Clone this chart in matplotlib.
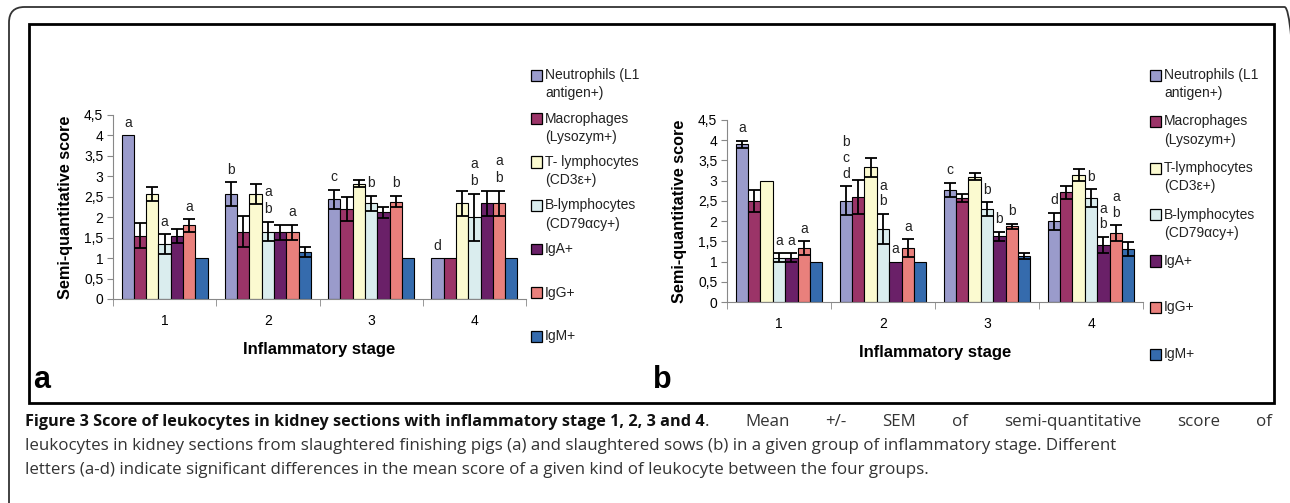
import numpy as np
import matplotlib
matplotlib.use("Agg")
from matplotlib import pyplot as plt
from matplotlib.patches import Rectangle, FancyBboxPatch

W, H = 1290, 503
plt.rcParams["font.family"] = ["Liberation Sans", "DejaVu Sans"]

stages = [1, 2, 3, 4]
series = ["Neutrophils (L1\nantigen+)", "Macrophages\n(Lysozym+)", "T- lymphocytes\n(CD3ε+)",
          "B-lymphocytes\n(CD79αcy+)", "IgA+", "IgG+", "IgM+"]
series_b = ["Neutrophils (L1\nantigen+)", "Macrophages\n(Lysozym+)", "T-lymphocytes\n(CD3ε+)",
            "B-lymphocytes\n(CD79αcy+)", "IgA+", "IgG+", "IgM+"]
colors = ["#9a9bcb", "#9b3468", "#fbfad0", "#daedee", "#6a2068", "#e9807c", "#356bad"]

# panel a: finishing pigs  (rows = series, cols = stage 1..4)
mean_a = [[4.0, 2.57, 2.44, 1.0],
          [1.55, 1.65, 2.2, 1.0],
          [2.56, 2.57, 2.82, 2.34],
          [1.34, 1.65, 2.34, 2.0],
          [1.55, 1.63, 2.12, 2.34],
          [1.8, 1.63, 2.38, 2.34],
          [1.0, 1.14, 1.0, 1.0]]
sem_a = [[0, 0.29, 0.23, 0],
         [0.3, 0.38, 0.29, 0],
         [0.17, 0.25, 0.09, 0.31],
         [0.24, 0.24, 0.19, 0.57],
         [0.17, 0.19, 0.13, 0.31],
         [0.15, 0.19, 0.14, 0.31],
         [0, 0.12, 0, 0]]
let_a = [["a", "b", "c", "d"],
         ["", "", "", ""],
         ["", "", "", ""],
         ["a", "a\nb", "b", "a\nb"],
         ["", "", "", ""],
         ["a", "a", "b", "a\nb"],
         ["", "", "", ""]]

# panel b: sows
mean_b = [[3.9, 2.5, 2.77, 2.0],
          [2.5, 2.6, 2.57, 2.71],
          [3.0, 3.33, 3.1, 3.14],
          [1.1, 1.81, 2.3, 2.57],
          [1.1, 1.0, 1.62, 1.41],
          [1.33, 1.33, 1.87, 1.7],
          [1.0, 1.0, 1.13, 1.31]]
sem_b = [[0.09, 0.36, 0.18, 0.21],
         [0.27, 0.42, 0.1, 0.16],
         [0, 0.23, 0.08, 0.15],
         [0.1, 0.37, 0.17, 0.22],
         [0.1, 0, 0.11, 0.2],
         [0.17, 0.22, 0.06, 0.2],
         [0, 0, 0.07, 0.18]]
let_b = [["a", "b\nc\nd", "c", "d"],
         ["", "", "", ""],
         ["", "", "", ""],
         ["a", "a\nb", "b", "b"],
         ["a", "a", "b", "a\nb"],
         ["a", "a", "b", "a\nb"],
         ["", "", "", ""]]

caption_bold = "Figure 3 Score of leukocytes in kidney sections with inflammatory stage 1, 2, 3 and 4"
caption_1 = ". Mean +/- SEM of semi-quantitative score of"
caption_2 = ("leukocytes in kidney sections from slaughtered finishing pigs (a) and slaughtered sows (b) "
             "in a given group of inflammatory stage. Different")
caption_3 = ("letters (a-d) indicate significant differences in the mean score of a given kind of "
             "leukocyte between the four groups.")


def fx(x):
    return x / W


def fy(y):
    return 1 - y / H


fig = plt.figure(figsize=(W / 100, H / 100), dpi=100)

# frames
fig.patches.append(FancyBboxPatch((fx(9), fy(520)), fx(1300 - 9), fy(7) - fy(520),
                                  boxstyle="round,pad=0,rounding_size=0.012",
                                  transform=fig.transFigure, fill=False,
                                  edgecolor="#333333", lw=1.3, mutation_aspect=W / H))
fig.patches.append(Rectangle((fx(29), fy(403)), fx(1274 - 29), fy(24) - fy(403),
                             transform=fig.transFigure, fill=False, edgecolor="black", lw=2))


def panel(left, right, y0, y45, mean, sem, lets, labels, leg_x, leg_y0, leg_dy, lsp):
    ax = fig.add_axes([fx(left), fy(y0), fx(right - left), fy(y45) - fy(y0)])
    w = 0.119
    mean = np.array(mean)
    sem = np.array(sem, dtype=float)
    x = np.array(stages, dtype=float)
    for i in range(len(mean)):
        xi = x + (i - 3) * w
        ax.bar(xi, mean[i], width=w, color=colors[i], edgecolor="black", lw=0.8, zorder=2)
        m = sem[i] > 0
        ax.errorbar(xi[m], mean[i][m], yerr=sem[i][m], fmt="none", ecolor="black",
                    elinewidth=1.3, capsize=4, capthick=1.3, zorder=3)
        for j in range(len(x)):
            if lets[i][j]:
                ax.annotate(lets[i][j], (xi[j], mean[i][j] + sem[i][j]), xytext=(0, 4),
                            textcoords="offset points", ha="center", va="bottom",
                            fontsize=10, linespacing=lsp, color="#222222")
    ax.set_xlim(0.5, 4.5)
    ax.set_ylim(0, 4.5)
    ax.set_yticks(np.arange(0, 4.51, 0.5))
    ax.set_yticklabels([("%g" % v).replace(".", ",") for v in np.arange(0, 4.51, 0.5)])
    ax.set_xticks(stages)
    ax.set_xticks(np.arange(0.5, 4.6, 1), minor=True)
    ax.tick_params(axis="x", which="major", length=0, pad=11, labelsize=10)
    ax.tick_params(axis="x", which="minor", length=5, color="#888888")
    ax.tick_params(axis="y", length=4, color="#888888", labelsize=10, pad=3)
    for s in ["top", "right"]:
        ax.spines[s].set_visible(False)
    for s in ["left", "bottom"]:
        ax.spines[s].set_color("#888888")
    ax.set_ylabel("Semi-quantitative score", fontsize=11.7, fontweight="bold", labelpad=8)
    ax.set_xlabel("Inflammatory stage", fontsize=12, fontweight="bold", labelpad=10)
    for i, lab in enumerate(labels):
        yc = leg_y0 + i * leg_dy
        fig.patches.append(Rectangle((fx(leg_x), fy(yc + 5.5)), fx(11), fy(yc - 5.5) - fy(yc + 5.5),
                                     transform=fig.transFigure, facecolor=colors[i],
                                     edgecolor="black", lw=0.9))
        fig.text(fx(leg_x + 14), fy(yc - 7), lab, fontsize=10, va="top", ha="left",
                 linespacing=1.37, color="#222222")
    return ax


panel(113, 526, 299, 115, mean_a, sem_a, let_a, series, 531, 75, 43.5, 1.3)
panel(727, 1143, 302, 120, mean_b, sem_b, let_b, series_b, 1150, 75, 46.5, 1.15)

fig.text(fx(33), fy(388), "a", fontsize=22, fontweight="bold", va="baseline")
fig.text(fx(653), fy(388), "b", fontsize=22, fontweight="bold", va="baseline")

# caption
cap_font = ["Open Sans", "DejaVu Sans"]
r = fig.canvas.get_renderer()
t1 = fig.text(fx(25), fy(426), caption_bold, fontsize=11.7, fontweight="bold", family=cap_font,
              va="baseline", color="#111111")
x_end = t1.get_window_extent(renderer=r).x1
t_dot = fig.text(x_end / W, fy(426), ".", fontsize=12.2, family=cap_font, va="baseline",
                 color="#333333")
x_end = t_dot.get_window_extent(renderer=r).x1
# justified first line: spread the remaining words up to the right margin
words = caption_1[1:].split()
txts = [fig.text(0, fy(426), wd, fontsize=12.2, family=cap_font, va="baseline", color="#333333")
        for wd in words]
widths = [t.get_window_extent(renderer=r).width for t in txts]
gap = (1272 - x_end - sum(widths)) / len(words)
xc = x_end + gap
for t, wd in zip(txts, widths):
    t.set_x(xc / W)
    xc += wd + gap
fig.text(fx(25), fy(450), caption_2, fontsize=12.2, family=cap_font, va="baseline", color="#333333")
fig.text(fx(25), fy(474), caption_3, fontsize=12.2, family=cap_font, va="baseline", color="#333333")

fig.savefig("out.png", dpi=100)
